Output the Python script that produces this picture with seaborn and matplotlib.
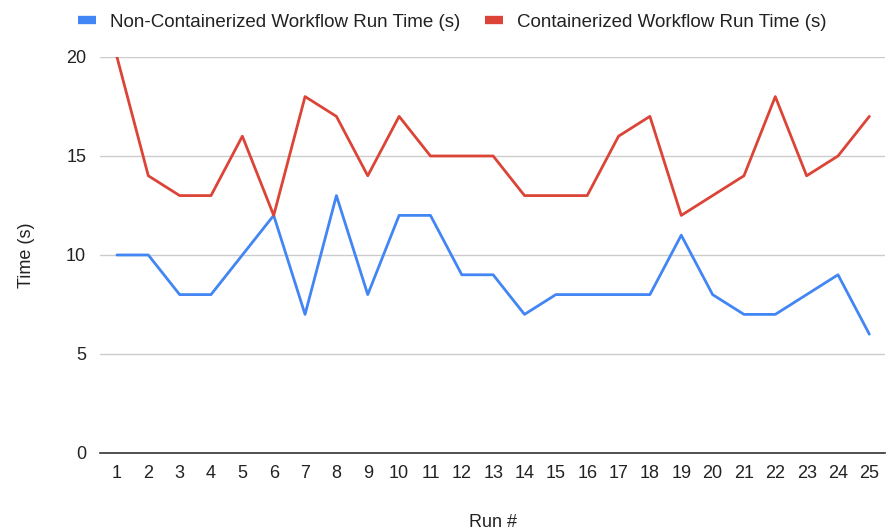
import numpy as np
import pandas as pd
import matplotlib
matplotlib.use("Agg")
import matplotlib.pyplot as plt
import seaborn as sns
from matplotlib.lines import Line2D

runs = list(range(1, 26))
non_containerized = [10, 10, 8, 8, 10, 12, 7, 13, 8, 12, 12, 9, 9, 7, 8, 8, 8, 8, 11, 8, 7, 7, 8, 9, 6]
containerized = [20, 14, 13, 13, 16, 12, 18, 17, 14, 17, 15, 15, 15, 13, 13, 13, 16, 17, 12, 13, 14, 18, 14, 15, 17]
series_names = ["Non-Containerized Workflow Run Time (s)", "Containerized Workflow Run Time (s)"]
colors = ["#4285F4", "#DB4437"]

df = pd.DataFrame({"Run #": runs, series_names[0]: non_containerized, series_names[1]: containerized})
long_df = df.melt(id_vars="Run #", var_name="series", value_name="Time (s)")

sns.set_style("white")
plt.rcParams["font.family"] = ["Liberation Sans", "DejaVu Sans"]

fig = plt.figure(figsize=(8.86, 5.31), dpi=100)
ax = fig.add_axes([0.1129, 0.1469, 0.886, 0.7458])

sns.lineplot(data=long_df, x="Run #", y="Time (s)", hue="series", palette=colors,
             hue_order=series_names, linewidth=2, ax=ax, legend=False)

ax.set_xlim(0.46, 25.5)
ax.set_ylim(0, 20)
ax.set_xticks(runs)
ax.set_yticks([0, 5, 10, 15, 20])
ax.grid(axis="y", color="#cccccc", linewidth=1)
ax.set_axisbelow(True)
for s in ["top", "right", "left"]:
    ax.spines[s].set_visible(False)
ax.spines["bottom"].set_color("#333333")
ax.spines["bottom"].set_linewidth(1.2)
ax.spines["bottom"].set_zorder(3)
ax.tick_params(axis="both", length=0, labelsize=13, labelcolor="#222222")
ax.tick_params(axis="x", pad=9)
ax.tick_params(axis="y", pad=10)
ax.set_xlabel("Run #", fontsize=13, color="#222222", labelpad=23)
ax.set_ylabel("Time (s)", fontsize=13, color="#222222", labelpad=22)

handles = [Line2D([0], [0], color=c, linewidth=6, solid_capstyle="butt") for c in colors]
fig.legend(handles, series_names, loc="center left", bbox_to_anchor=(0.0686, 0.958),
           ncol=2, frameon=False, fontsize=13.5, handlelength=1.0, handletextpad=0.7,
           columnspacing=1.33, labelcolor="#222222")

fig.savefig("out.png", dpi=100)
